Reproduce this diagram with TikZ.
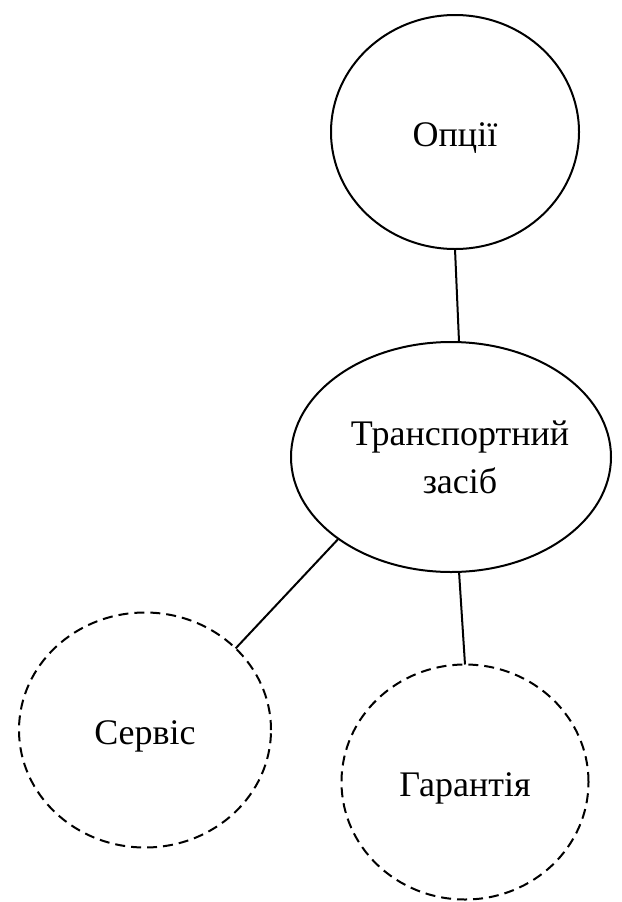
\documentclass[tikz,border=0pt]{standalone}
\usepackage{fontspec}
\setmainfont{Liberation Serif}
\usetikzlibrary{shapes.geometric}
\begin{document}
\begin{tikzpicture}[x=1pt,y=-1pt,
  bubble/.style={ellipse,draw=black,line width=2pt,inner sep=0pt,outer sep=0pt},
  optional/.style={bubble,dash pattern=on 10pt off 6pt},
  caption/.style={font=\fontsize{36}{48}\selectfont,align=center,inner sep=0pt},
  link/.style={draw=black,line width=2pt}]
  \useasboundingbox[fill=white] (0,0) rectangle (621,902);

  % main concept and its parts, captions set at the centre of each shape
  \node[bubble,minimum width=248pt,minimum height=234pt,
    label={[caption,yshift=-6pt]center:Опції}] (opt) at (455,132) {};
  \node[bubble,minimum width=320pt,minimum height=230pt,
    label={[caption,xshift=9pt]center:Транспортний\\засіб}] (veh) at (451,457) {};
  \node[optional,minimum width=252pt,minimum height=235pt,
    label={[caption,yshift=-6pt]center:Сервіс}] (srv) at (145,730) {};
  \node[optional,minimum width=247pt,minimum height=235pt,
    label={[caption,yshift=-6pt]center:Гарантія}] (war) at (465,782) {};

  % connectors
  \draw[link] (opt.south) -- (veh.86);
  \draw[link] (veh.216) -- (srv.42);
  \draw[link] (veh.-86) -- (war.north);
\end{tikzpicture}
\end{document}
